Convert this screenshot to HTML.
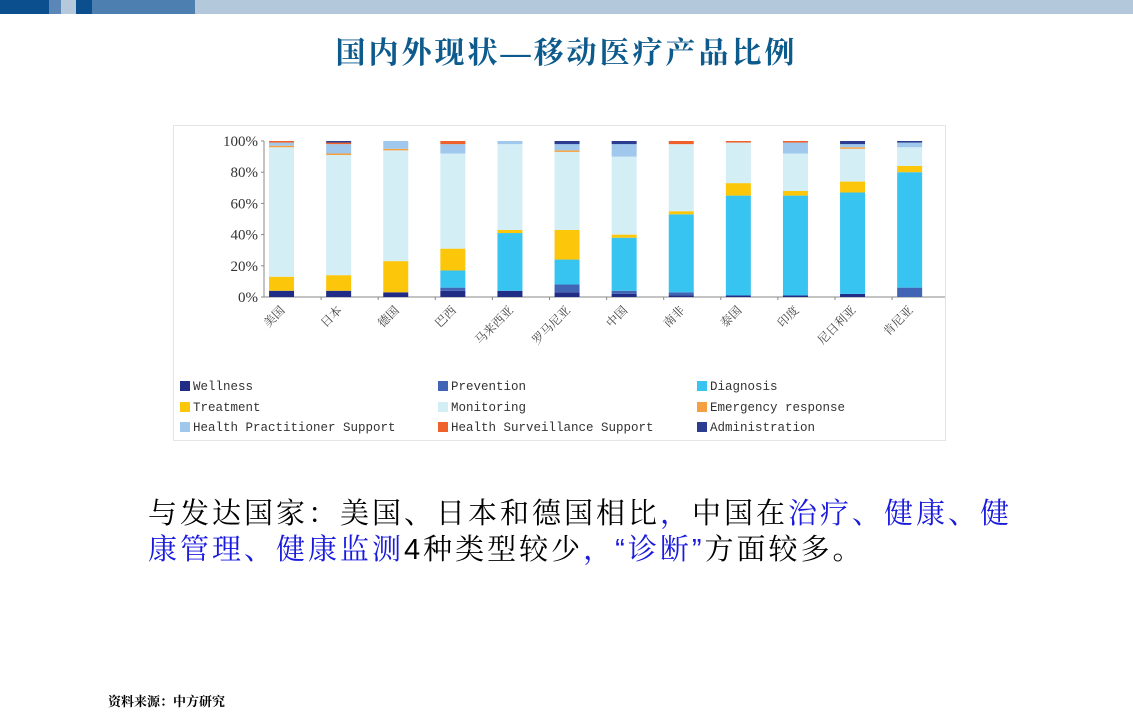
<!DOCTYPE html>
<html><head><meta charset="utf-8">
<style>
body{margin:0;width:1133px;height:720px;background:#fff;position:relative;overflow:hidden;font-family:"Liberation Sans","Noto Sans CJK SC",sans-serif}
.seg{position:absolute;top:0;height:14px}
#title{position:absolute;left:0;width:1133px;top:28px;text-align:center;font-family:"Liberation Serif","Noto Serif CJK SC",serif;font-size:30px;font-weight:bold;color:#0d5a8c;letter-spacing:3px}
#chartbox{position:absolute;left:173px;top:125px;width:771px;height:314px;border:1px solid #e4e4e0;background:#fff}
.lg{position:absolute;font-family:"Liberation Mono",monospace;font-size:12.5px;color:#333;white-space:nowrap}
.lg i{display:inline-block;width:10px;height:10px;margin-right:3px;vertical-align:-1px}
#para{position:absolute;left:148px;top:496px;font-family:"Liberation Sans","Noto Serif CJK SC",serif;font-size:29px;line-height:36px;letter-spacing:3px;color:#000;width:872px}
.b{color:#1a1adf}
#src{position:absolute;left:108px;top:691px;font-family:"Noto Serif CJK SC",serif;font-weight:bold;font-size:13px}
</style></head><body>
<div class="seg" style="left:0;width:49px;background:#0b4f8f"></div>
<div class="seg" style="left:49px;width:12px;background:#5a86b8"></div>
<div class="seg" style="left:61px;width:15px;background:#b5c8dc"></div>
<div class="seg" style="left:76px;width:16px;background:#0b4f8f"></div>
<div class="seg" style="left:92px;width:103px;background:#4d7fb0"></div>
<div class="seg" style="left:195px;width:938px;background:#b4c8dc"></div>
<div id="title">国内外现状—移动医疗产品比例</div>
<div id="chartbox">
<svg id="chart" width="771" height="314"></svg>
<div class="lg" style="left:6px;top:254px"><i style="background:#202c86"></i>Wellness</div>
<div class="lg" style="left:264px;top:254px"><i style="background:#4264b4"></i>Prevention</div>
<div class="lg" style="left:523px;top:254px"><i style="background:#38c4f0"></i>Diagnosis</div>
<div class="lg" style="left:6px;top:275px"><i style="background:#fcc60a"></i>Treatment</div>
<div class="lg" style="left:264px;top:275px"><i style="background:#d3eef5"></i>Monitoring</div>
<div class="lg" style="left:523px;top:275px"><i style="background:#f5a040"></i>Emergency response</div>
<div class="lg" style="left:6px;top:295px"><i style="background:#9fc8ec"></i>Health Practitioner Support</div>
<div class="lg" style="left:264px;top:295px"><i style="background:#f0602a"></i>Health Surveillance Support</div>
<div class="lg" style="left:523px;top:295px"><i style="background:#2a3d90"></i>Administration</div>
</div>
<div id="para">与发达国家：美国、日本和德国相比<span class="b">，</span>中国在<span class="b">治疗、健康、健康管理、健康监测</span>4种类型较少<span class="b">，“诊断”</span>方面较多。</div>
<div id="src">资料来源：中方研究</div>
<script>
const categories=["美国","日本","德国","巴西","马来西亚","罗马尼亚","中国","南非","泰国","印度","尼日利亚","肯尼亚"];
const wellness=[4,4,3,4,4,3,2,1,1,1,2,0];
const prevention=[0,0,0,2,0,5,2,2,0,0,0,6];
const diagnosis=[0,0,0,11,37,16,34,50,64,64,65,74];
const treatment=[9,10,20,14,2,19,2,2,8,3,7,4];
const monitoring=[83,77,71,61,55,50,50,43,26,24,21,12];
const emergency=[1,1,1,0,0,1,0,0,0,0,1,0];
const practitioner=[2,6,5,6,2,4,8,0,0,7,2,3];
const surveillance=[1,1,0,2,0,0,0,2,1,1,0,0];
const administration=[0,1,0,0,0,2,2,0,0,0,2,1];
const yTicks=[0,20,40,60,80,100];
const series=[wellness,prevention,diagnosis,treatment,monitoring,emergency,practitioner,surveillance,administration];
const colors=["#202c86","#4264b4","#38c4f0","#fcc60a","#d3eef5","#f5a040","#9fc8ec","#f0602a","#2a3d90"];
const names=["wellness","prevention","diagnosis","treatment","monitoring","emergency","practitioner","surveillance","administration"];
const svg=document.getElementById('chart');const NS='http://www.w3.org/2000/svg';
const x0=90,y0=171,y1=15,step=57.1,bw=25;
const y=v=>y0-(v/100)*(y0-y1);
const xc=i=>x0+step*(i+0.5)-11;
function mk(t,a){const e=document.createElementNS(NS,t);for(const k in a)e.setAttribute(k,a[k]);svg.appendChild(e);return e;}
let ax=mk('line',{x1:x0,y1:y1,x2:x0,y2:y0,stroke:'#888'});

let bx=mk('line',{x1:x0,y1:y0,x2:x0+step*12,y2:y0,stroke:'#888'});

yTicks.forEach(t=>{const tx=mk('text',{x:x0-6,y:y(t)+5,'text-anchor':'end','font-size':'15','font-family':'Liberation Serif, serif',fill:'#333'});tx.textContent=t+'%';

mk('line',{x1:x0-3,y1:y(t),x2:x0,y2:y(t),stroke:'#888'});});
categories.forEach((c,i)=>{let acc=0;
series.forEach((s,j)=>{const v=s[i];if(v>0){const r=mk('rect',{x:xc(i)-bw/2,y:y(acc+v),width:bw,height:y(acc)-y(acc+v),fill:colors[j]});
}acc+=v;});
mk('line',{x1:x0+step*(i+1),y1:y0,x2:x0+step*(i+1),y2:y0+3,stroke:'#888'});
const cx=xc(i),cy=y0+10;
const t=mk('text',{x:cx+4,y:cy+4,'text-anchor':'end','font-size':'12','font-family':'Noto Serif CJK SC, serif',fill:'#444',transform:`rotate(-45 ${cx+4} ${cy+4})`});t.textContent=c;
});
</script>
</body></html>
